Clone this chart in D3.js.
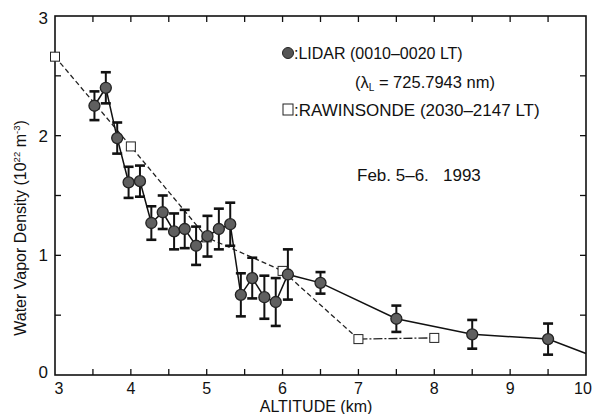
<!DOCTYPE html>
<html><head><meta charset="utf-8">
<script src="https://cdn.jsdelivr.net/npm/d3@7"></script>
<style>body{margin:0;background:#fff}svg{display:block}text{font-family:"Liberation Sans",Arial,Helvetica,sans-serif;fill:#111}</style>
</head><body><svg id="c" width="599" height="414"></svg>
<script>
// LIDAR (altitude km, density 1e22 m^-3, error)
const lidarX = [3.52,3.67,3.82,3.97,4.12,4.27,4.42,4.57,4.71,4.86,5.01,5.16,5.31,5.45,5.60,5.76,5.91,6.07,6.50,7.50,8.50,9.50];
const lidarY = [2.25,2.40,1.98,1.61,1.62,1.27,1.36,1.20,1.22,1.08,1.16,1.22,1.26,0.67,0.81,0.65,0.61,0.84,0.77,0.47,0.34,0.30];
const lidarErr = [0.12,0.13,0.13,0.13,0.13,0.14,0.14,0.15,0.16,0.16,0.17,0.17,0.18,0.18,0.17,0.18,0.20,0.21,0.09,0.11,0.12,0.13];
// line continues to the frame edge
const lidarTail = [10, 0.18];
// Rawinsonde
const rawX = [3.0,4.0,5.0,6.0,7.0,8.0];
const rawY = [2.66,1.91,1.15,0.87,0.30,0.31];
const xTicks = [3,4,5,6,7,8,9,10];
const yTicks = [0,1,2,3];

const svg = d3.select("#c");
const L=55,R=586,T=16,B=375;
const x = d3.scaleLinear().domain([3,10]).range([L,R]);
const y = d3.scaleLinear().domain([0,3]).range([B,T]);

// ticks (inward, all four sides)
const tx = d3.range(3,10.01,0.5), ty = d3.range(0,3.01,0.5);
const tk = 6;
const g = svg.append("g").attr("stroke","#111").attr("stroke-width",1.3);
tx.forEach(v=>{ if(v>3&&v<10){
  g.append("line").attr("x1",x(v)).attr("x2",x(v)).attr("y1",B).attr("y2",B-tk);
  g.append("line").attr("x1",x(v)).attr("x2",x(v)).attr("y1",T).attr("y2",T+tk);}});
ty.forEach(v=>{ if(v>0&&v<3){
  g.append("line").attr("y1",y(v)).attr("y2",y(v)).attr("x1",L).attr("x2",L+tk);
  g.append("line").attr("y1",y(v)).attr("y2",y(v)).attr("x1",R).attr("x2",R-tk);}});
svg.append("rect").attr("x",L).attr("y",T).attr("width",R-L).attr("height",B-T)
  .attr("fill","none").attr("stroke","#111").attr("stroke-width",1.6);

// tick labels
svg.selectAll(".xl").data(xTicks).enter().append("text")
  .attr("x",d=>x(d)+(d===3?4:(d===10?-3:0))).attr("y",B+19).attr("text-anchor","middle")
  .attr("font-size",16).text(d=>d);
svg.selectAll(".yl").data(yTicks).enter().append("text")
  .attr("x",L-7).attr("y",d=>y(d)+6+(d===0?-3:0)+(d===3?2:0)).attr("text-anchor","end")
  .attr("font-size",17).text(d=>d);

// axis titles
svg.append("text").attr("x",316).attr("y",412).attr("text-anchor","middle")
  .attr("font-size",16).text("ALTITUDE (km)");
const yt = svg.append("text").attr("transform",`translate(26,228) rotate(-90)`)
  .attr("text-anchor","middle").attr("font-size",16);
yt.append("tspan").text("Water Vapor Density (10");
yt.append("tspan").attr("font-size",9.5).attr("dy",-6).text("22");
yt.append("tspan").attr("dy",6).text(" m");
yt.append("tspan").attr("font-size",9.5).attr("dy",-6).text("-3");
yt.append("tspan").attr("dy",6).text(")");

// rawinsonde lines
const rawPts = rawX.map((v,i)=>[v,rawY[i]]);
const line = d3.line().x(d=>x(d[0])).y(d=>y(d[1]));
svg.append("path").attr("d",line(rawPts.slice(0,5))).attr("fill","none")
  .attr("stroke","#222").attr("stroke-width",1.3).attr("stroke-dasharray","5,3");
svg.append("path").attr("d",line(rawPts.slice(4))).attr("fill","none")
  .attr("stroke","#222").attr("stroke-width",1.3).attr("stroke-dasharray","9,2,2,2");

// lidar line
const lidPts = lidarX.map((v,i)=>[v,lidarY[i]]).concat([lidarTail]);
svg.append("path").attr("d",line(lidPts)).attr("fill","none")
  .attr("stroke","#111").attr("stroke-width",1.5);

// error bars
const eb = svg.append("g").attr("stroke","#111");
lidarX.forEach((v,i)=>{
  const cx=x(v), y1=y(lidarY[i]+lidarErr[i]), y2=y(lidarY[i]-lidarErr[i]);
  eb.append("line").attr("x1",cx).attr("x2",cx).attr("y1",y1).attr("y2",y2).attr("stroke-width",2);
  eb.append("line").attr("x1",cx-5).attr("x2",cx+5).attr("y1",y1).attr("y2",y1).attr("stroke-width",2.6);
  eb.append("line").attr("x1",cx-5).attr("x2",cx+5).attr("y1",y2).attr("y2",y2).attr("stroke-width",2.6);
});

// raw squares
svg.selectAll(".sq").data(rawPts).enter().append("rect")
  .attr("x",d=>x(d[0])-4.5).attr("y",d=>y(d[1])-4.5).attr("width",9).attr("height",9)
  .attr("fill","#fff").attr("stroke","#222").attr("stroke-width",1);

// lidar circles
svg.selectAll(".ci").data(lidarX).enter().append("circle")
  .attr("cx",d=>x(d)).attr("cy",(d,i)=>y(lidarY[i])).attr("r",5.5)
  .attr("fill","#5f5f5f").attr("stroke","#222").attr("stroke-width",1.3);

// legend
const lg = svg.append("g");
lg.append("circle").attr("cx",288).attr("cy",53).attr("r",5.5).attr("fill","#555").attr("stroke","#222");
lg.append("text").attr("x",294).attr("y",59).attr("font-size",16).text(":LIDAR (0010\u20130020 LT)");
const l2 = lg.append("text").attr("x",355).attr("y",88).attr("font-size",16.5);
l2.append("tspan").text("(\u03bb");
l2.append("tspan").attr("font-size",10).attr("dy",3).text("L");
l2.append("tspan").attr("dy",-3).text(" = 725.7943 nm)");
lg.append("rect").attr("x",283).attr("y",104).attr("width",10).attr("height",11).attr("fill","#fff").attr("stroke","#222");
lg.append("text").attr("x",294).attr("y",116).attr("font-size",17).text(":RAWINSONDE (2030\u20132147 LT)");
lg.append("text").attr("x",357).attr("y",181).attr("font-size",17).attr("xml:space","preserve").text("Feb. 5\u20136.   1993");
</script></body></html>
